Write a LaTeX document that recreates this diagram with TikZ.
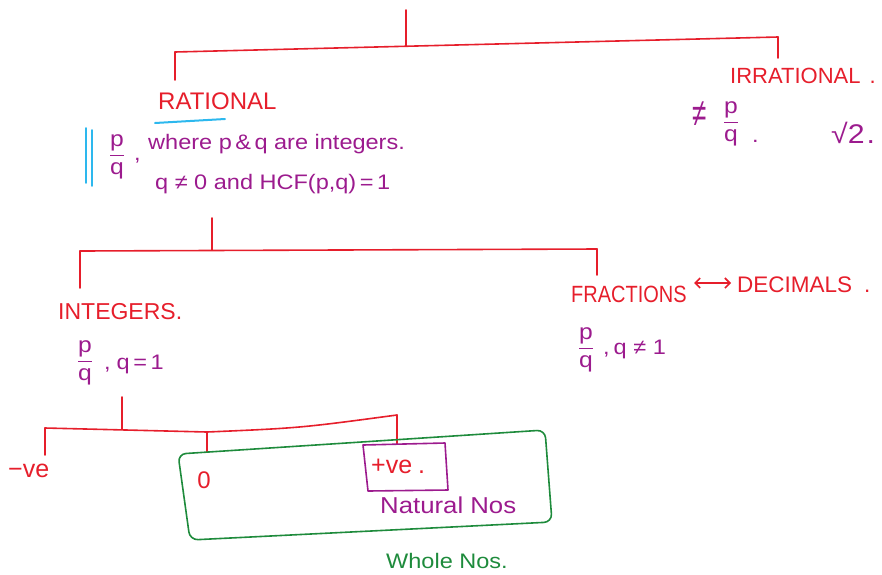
\documentclass[tikz,border=0pt]{standalone}
\usepackage{fontspec}
\setmainfont{Liberation Sans}
\newfontfamily\hand{Liberation Sans}[FakeStretch=1.12]
\newfontfamily\narrow{Liberation Sans}[FakeStretch=0.85]
\usetikzlibrary{arrows.meta}
\definecolor{penred}{HTML}{E61E2B}
\definecolor{penpurple}{HTML}{9C1B8E}
\definecolor{penblue}{HTML}{2DB8EE}
\definecolor{pengreen}{HTML}{1E8B3C}
\newcommand{\pq}{$\displaystyle\frac{\mbox{p}}{\mbox{q}}$}
\begin{document}
\begin{tikzpicture}[x=1pt,y=-1pt,line cap=round,line join=round,
  redline/.style={draw=penred,line width=1.6pt},
  heading/.style={text=penred,inner sep=0pt},
  note/.style={text=penpurple,inner sep=0pt},
  frac/.style={text=penpurple,font=\hand\fontsize{22}{24}\selectfont,inner sep=0pt},
  box/.style={line width=1.6pt}]
\useasboundingbox (0,0) rectangle (882,574);
% ---------- top level ----------
\coordinate (top) at (406,10);
\coordinate (t1) at (406,46);
\coordinate (t1l) at (175,52);
\coordinate (t1r) at (778,37);
\coordinate (t1ld) at (175,80);
\coordinate (t1rd) at (778,58);
\draw[redline] (top) -- (t1);
\draw[redline] (t1l) -- (t1r);
\draw[redline] (t1l) -- (t1ld);
\draw[redline] (t1r) -- (t1rd);
% ---------- rational ----------
\node[heading,font=\fontsize{24}{26}\selectfont,anchor=base west] (rat) at (158,109) {RATIONAL};
\coordinate (ul1) at (155,123);
\coordinate (ul2) at (225,119);
\draw[draw=penblue,line width=2pt] (ul1) -- (ul2);
\coordinate (b1a) at (86,128);\coordinate (b1b) at (86,183);
\coordinate (b2a) at (92,130);\coordinate (b2b) at (92,186);
\draw[draw=penblue,line width=1.6pt] (b1a) -- (b1b) (b2a) -- (b2b);
\node[frac,anchor=center] (pq1) at (117,157) {\pq};
\node[note,font=\hand\fontsize{21}{24}\selectfont,anchor=base west] (cm1) at (134,160) {,};
\node[note,font=\hand\fontsize{21}{24}\selectfont,anchor=base west] (def1) at (148,149) {where p\,\&\,q are integers.};
\node[note,font=\hand\fontsize{21}{24}\selectfont,anchor=base west] (def2) at (155,189) {q ≠ 0 and HCF(p,q)\,=\,1};
% ---------- irrational ----------
\node[heading,font=\fontsize{22}{24}\selectfont,anchor=base west] (irr) at (730,83) {IRRATIONAL\hspace{9pt}.};
\node[frac,font=\fontsize{26}{28}\selectfont,anchor=center] (neq) at (700,114) {\scalebox{1}[1.5]{≠}};
\node[frac,anchor=center] (pq2) at (731,124) {\pq};
\node[note,font=\hand\fontsize{21}{24}\selectfont,anchor=base west] (dot2) at (752,142) {.};
\node[note,font=\hand\fontsize{27}{28}\selectfont,anchor=base west] (sq2) at (831,143) {√2\hspace{2pt}.};
% ---------- second level ----------
\coordinate (s0) at (212,218);
\coordinate (s1) at (212,250);
\coordinate (s1l) at (80,251);
\coordinate (s1r) at (597,249);
\coordinate (s1ld) at (80,288);
\coordinate (s1rd) at (597,275);
\draw[redline] (s0) -- (s1);
\draw[redline] (s1l) -- (s1r);
\draw[redline] (s1l) -- (s1ld);
\draw[redline] (s1r) -- (s1rd);
\node[heading,font=\fontsize{23}{26}\selectfont,anchor=base west] (int) at (58,319) {INTEGERS.};
\node[frac,anchor=center] (pq3) at (85,363) {\pq};
\node[note,font=\hand\fontsize{21}{24}\selectfont,anchor=base west] (int2) at (104,369) {,\hspace{6pt}q\,=\,1};
\node[heading,font=\narrow\fontsize{23.5}{26}\selectfont,anchor=base west] (fra) at (571,302) {FRACTIONS};
\node[heading,font=\fontsize{22.5}{24}\selectfont,anchor=base west] (dec) at (737,292) {DECIMALS\hspace{12pt}.};
\coordinate (fa) at (694,283);
\coordinate (da) at (731,283);
\draw[draw=penred,line width=1.6pt,{Straight Barb[length=5pt]}-{Straight Barb[length=5pt]}] (fa) -- (da);
\node[frac,anchor=center] (pq4) at (586,350) {\pq};
\node[note,font=\hand\fontsize{21}{24}\selectfont,anchor=base west] (fra2) at (603,354) {,\hspace{4pt}q ≠ 1};
% ---------- third level ----------
\coordinate (u0) at (122,397);
\coordinate (u1) at (122,429);
\coordinate (u1l) at (45,428);
\coordinate (u1m) at (207,432);
\coordinate (u1r) at (397,415);
\coordinate (u1ld) at (45,455);
\coordinate (u1md) at (207,452);
\coordinate (u1rd) at (397,444);
\draw[redline] (u0) -- (u1);
\draw[redline] (u1l) -- (u1m) .. controls (300,428) .. (u1r);
\draw[redline] (u1l) -- (u1ld);
\draw[redline] (u1m) -- (u1md);
\draw[redline] (u1r) -- (u1rd);
\node[heading,font=\fontsize{25}{26}\selectfont,anchor=base west] (neg) at (8,477) {−ve};
\node[heading,font=\fontsize{24}{26}\selectfont,anchor=center] (zero) at (204,480) {0};
\node[heading,font=\fontsize{25}{26}\selectfont,anchor=base west] (pos) at (371,473) {+ve\hspace{6pt}.};
\draw[draw=penpurple,box] (363,445) -- (445,443) -- (448,490) -- (368,491) -- cycle;
\node[note,font=\hand\fontsize{23}{24}\selectfont,anchor=base west] (nat) at (380,513) {Natural Nos};
\draw[draw=pengreen,box,rounded corners=8pt] (178,454) -- (545,430) -- (552,522) -- (190,540) -- cycle;
\node[note,text=pengreen,font=\hand\fontsize{21}{24}\selectfont,anchor=base west] (who) at (386,568) {Whole Nos.};
\end{tikzpicture}
\end{document}
